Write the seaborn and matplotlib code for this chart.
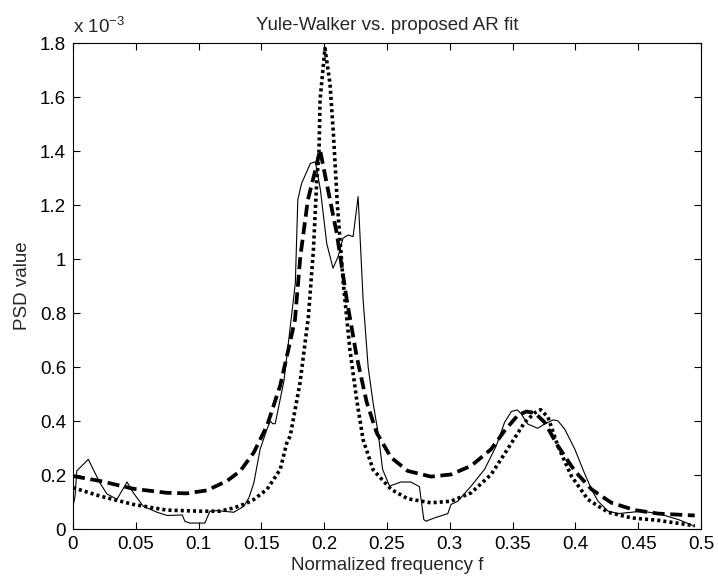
import numpy as np
import pandas as pd
import matplotlib
matplotlib.use("Agg")
import matplotlib.pyplot as plt
from matplotlib.ticker import FuncFormatter
import seaborn as sns

# ---- data (PSD values in units of 1e-3) ----
f_measured = [0.0, 0.0016, 0.003, 0.0122, 0.0215, 0.027, 0.035, 0.043, 0.048, 0.056, 0.067,
              0.075, 0.087, 0.089, 0.093, 0.105, 0.109, 0.115, 0.128, 0.136, 0.14, 0.144,
              0.149, 0.1545, 0.157, 0.159, 0.161, 0.168, 0.177, 0.179, 0.182, 0.189, 0.193,
              0.197, 0.202, 0.207, 0.211, 0.215, 0.219, 0.223, 0.227, 0.231, 0.235, 0.239,
              0.243, 0.2465, 0.252, 0.261, 0.269, 0.2758, 0.2793, 0.281, 0.2878, 0.2984,
              0.301, 0.3064, 0.317, 0.3277, 0.337, 0.3436, 0.349, 0.3537, 0.357, 0.362,
              0.370, 0.3755, 0.3822, 0.386, 0.3915, 0.3995, 0.407, 0.4128, 0.418, 0.426,
              0.434, 0.4447, 0.4527, 0.466, 0.482, 0.495]
psd_measured = [0.085, 0.12, 0.215, 0.258, 0.17, 0.13, 0.11, 0.174, 0.134, 0.084, 0.062,
                0.05, 0.052, 0.029, 0.022, 0.022, 0.066, 0.068, 0.062, 0.084, 0.115, 0.171,
                0.296, 0.37, 0.40, 0.39, 0.39, 0.55, 0.91, 1.22, 1.28, 1.354, 1.36,
                1.256, 1.058, 0.966, 1.008, 1.077, 1.089, 1.083, 1.231, 0.848, 0.60, 0.465,
                0.354, 0.221, 0.159, 0.174, 0.174, 0.157, 0.035, 0.029, 0.041, 0.057,
                0.091, 0.103, 0.159, 0.221, 0.308, 0.395, 0.435, 0.441, 0.426, 0.389,
                0.373, 0.389, 0.404, 0.401, 0.370, 0.296, 0.209, 0.147, 0.103, 0.066,
                0.057, 0.062, 0.066, 0.057, 0.035, 0.010]

f_proposed = [0.0, 0.0215, 0.048, 0.0747, 0.0907, 0.1066, 0.1226, 0.1332, 0.1439, 0.1545,
              0.165, 0.1714, 0.1767, 0.181, 0.187, 0.193, 0.1967, 0.202, 0.21, 0.218,
              0.2259, 0.2338, 0.2418, 0.2532, 0.2665, 0.285, 0.301, 0.317, 0.333, 0.3436,
              0.3543, 0.361, 0.3676, 0.3755, 0.386, 0.3995, 0.4128, 0.4287, 0.4473, 0.466,
              0.495]
psd_proposed = [0.196, 0.178, 0.149, 0.134, 0.132, 0.143, 0.178, 0.215, 0.283, 0.383,
                0.532, 0.663, 0.774, 1.009, 1.219, 1.33, 1.404, 1.28, 1.095, 0.848,
                0.638, 0.47, 0.356, 0.265, 0.215, 0.194, 0.202, 0.234, 0.296, 0.364,
                0.422, 0.435, 0.43, 0.395, 0.308, 0.215, 0.147, 0.097, 0.070, 0.057,
                0.050]

f_yulewalker = [0.0, 0.0215, 0.048, 0.0747, 0.101, 0.117, 0.128, 0.138, 0.1439, 0.1545,
                0.165, 0.1701, 0.173, 0.1807, 0.1874, 0.1914, 0.194, 0.1959, 0.1967, 0.2006,
                0.2046, 0.2073, 0.2105, 0.2152, 0.2205, 0.2259, 0.231, 0.239, 0.2532, 0.2665,
                0.285, 0.301, 0.317, 0.333, 0.3463, 0.3596, 0.3676, 0.3723, 0.3782, 0.386,
                0.3968, 0.41, 0.426, 0.4447, 0.466, 0.495]
psd_yulewalker = [0.153, 0.122, 0.091, 0.070, 0.066, 0.066, 0.078, 0.095, 0.109, 0.147,
                  0.221, 0.317, 0.345, 0.54, 0.786, 1.033, 1.28, 1.404, 1.589, 1.78,
                  1.65, 1.466, 1.2, 0.91, 0.663, 0.478, 0.33, 0.219, 0.147, 0.112,
                  0.097, 0.103, 0.134, 0.2025, 0.298, 0.395, 0.43, 0.442, 0.414, 0.308,
                  0.196, 0.109, 0.062, 0.041, 0.032, 0.012]

x_ticks = [0, 0.05, 0.1, 0.15, 0.2, 0.25, 0.3, 0.35, 0.4, 0.45, 0.5]
y_ticks = [0, 0.2, 0.4, 0.6, 0.8, 1.0, 1.2, 1.4, 1.6, 1.8]

sns.set_style("ticks")
plt.rcParams["font.family"] = ["Liberation Sans", "DejaVu Sans"]
plt.rcParams["mathtext.fontset"] = "custom"
plt.rcParams["mathtext.rm"] = "Liberation Sans"
plt.rcParams["mathtext.it"] = "Liberation Sans"
plt.rcParams["mathtext.default"] = "regular"

FS = 13.5

fig = plt.figure(figsize=(7.18, 5.78), dpi=100)
ax = fig.add_axes([73 / 718, 1 - 529 / 578, 628 / 718, 486 / 578])

sns.lineplot(x=f_measured, y=psd_measured, ax=ax, color="black", linewidth=0.8,
             estimator=None, sort=False)
sns.lineplot(x=f_proposed, y=psd_proposed, ax=ax, color="black", linewidth=2.7,
             estimator=None, sort=False)
ax.lines[-1].set_dashes((3.2, 1.5))
sns.lineplot(x=f_yulewalker, y=psd_yulewalker, ax=ax, color="black", linewidth=2.6,
             estimator=None, sort=False)
ax.lines[-1].set_dashes((0.85, 0.85))

ax.set_xlim(0, 0.5)
ax.set_ylim(0, 1.8)
ax.set_xticks(x_ticks)
ax.set_yticks(y_ticks)
fmt = FuncFormatter(lambda v, p: "%g" % round(v, 3))
ax.xaxis.set_major_formatter(fmt)
ax.yaxis.set_major_formatter(fmt)
ax.tick_params(direction="in", top=True, right=True, length=5, width=0.8,
               labelsize=FS, colors="black", pad=5)
for s in ax.spines.values():
    s.set_visible(True)
    s.set_color("black")
    s.set_linewidth(0.8)

ax.set_title("Yule-Walker vs. proposed AR fit", fontsize=FS, pad=9)
ax.set_xlabel("Normalized frequency f", fontsize=FS, labelpad=3)
ax.set_ylabel("PSD value", fontsize=FS, labelpad=6)
ax.text(0.0, 1.012, r"x 10$^{-3}$", transform=ax.transAxes, ha="left", va="bottom",
        fontsize=FS)

fig.savefig("out.png", dpi=100)
